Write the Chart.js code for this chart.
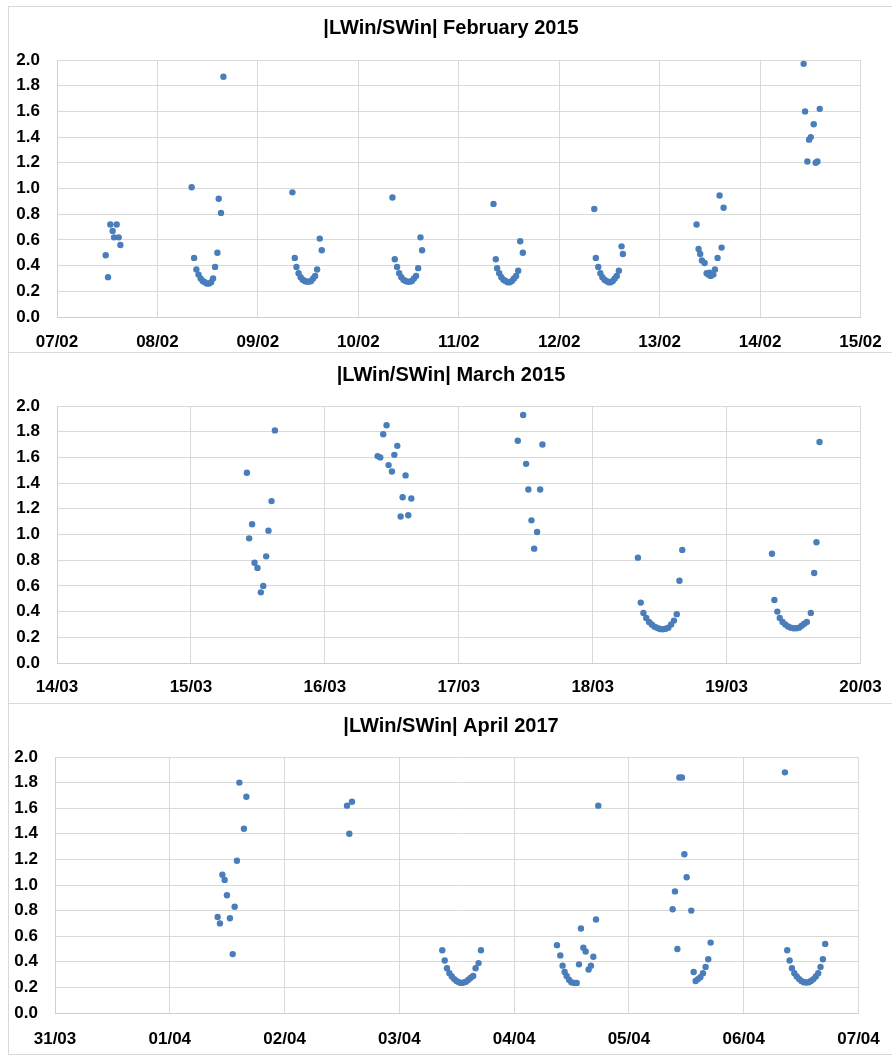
<!DOCTYPE html>
<html>
<head>
<meta charset="utf-8">
<script src="https://cdn.jsdelivr.net/npm/chart.js@4.4.1/dist/chart.umd.min.js"></script>
<style>
  body { margin: 0; background: #fff; width: 892px; height: 1055px; overflow: hidden; position: relative; }
  .panel { position: absolute; left: 8px; width: 900px; border: 1px solid #d9d9d9; box-sizing: border-box; background: #fff; }
  .panel canvas { position: absolute; left: 0; top: 0; }
</style>
</head>
<body>
<div class="panel" style="top:6px;height:347px"><canvas id="febChart" width="884" height="345"></canvas></div>
<div class="panel" style="top:352px;height:352px"><canvas id="marChart" width="884" height="350"></canvas></div>
<div class="panel" style="top:703px;height:352px"><canvas id="aprChart" width="884" height="350"></canvas></div>
<script>
// |LWin/SWin| ratio, x = day of month (decimal)
const febTicks = ['07/02', '08/02', '09/02', '10/02', '11/02', '12/02', '13/02', '14/02', '15/02']
const febX = [
    7.485, 7.508, 7.531, 7.554, 7.568, 7.594, 7.614, 7.631,
    8.341, 8.365, 8.388, 8.409, 8.430, 8.451, 8.471, 8.492, 8.513, 8.534, 8.554, 8.574, 8.597, 8.610, 8.633, 8.657,
    9.344, 9.367, 9.384, 9.405, 9.426, 9.446, 9.467, 9.488, 9.508, 9.529, 9.550, 9.570, 9.590, 9.616, 9.636,
    10.340, 10.363, 10.386, 10.407, 10.428, 10.449, 10.470, 10.491, 10.512, 10.533, 10.554, 10.575, 10.596, 10.619, 10.635,
    11.346, 11.369, 11.382, 11.403, 11.424, 11.445, 11.466, 11.487, 11.508, 11.529, 11.550, 11.571, 11.592, 11.612, 11.638,
    12.349, 12.365, 12.389, 12.410, 12.430, 12.451, 12.471, 12.492, 12.512, 12.533, 12.553, 12.573, 12.594, 12.621, 12.634,
    13.368, 13.388, 13.404, 13.421, 13.448, 13.468, 13.484, 13.497, 13.508, 13.535, 13.551, 13.577, 13.597, 13.617, 13.637,
    14.434, 14.448, 14.471, 14.488, 14.505, 14.534, 14.554, 14.571, 14.594
]
const febY = [
    0.48, 0.31, 0.72, 0.67, 0.62, 0.72, 0.62, 0.56,
    1.01, 0.46, 0.37, 0.33, 0.30, 0.28, 0.27, 0.26, 0.26, 0.27, 0.30, 0.39, 0.50, 0.92, 0.81, 1.87,
    0.97, 0.46, 0.39, 0.34, 0.31, 0.29, 0.28, 0.275, 0.275, 0.28, 0.30, 0.32, 0.37, 0.61, 0.52,
    0.93, 0.45, 0.39, 0.34, 0.31, 0.29, 0.28, 0.275, 0.275, 0.28, 0.30, 0.32, 0.38, 0.62, 0.52,
    0.88, 0.45, 0.38, 0.34, 0.31, 0.29, 0.28, 0.27, 0.27, 0.28, 0.30, 0.32, 0.36, 0.59, 0.50,
    0.84, 0.46, 0.39, 0.34, 0.31, 0.29, 0.28, 0.27, 0.27, 0.28, 0.30, 0.32, 0.36, 0.55, 0.49,
    0.72, 0.53, 0.49, 0.44, 0.42, 0.34, 0.33, 0.345, 0.32, 0.33, 0.37, 0.46, 0.945, 0.54, 0.85,
    1.97, 1.60, 1.21, 1.38, 1.40, 1.50, 1.20, 1.21, 1.62
]

const marTicks = ['14/03', '15/03', '16/03', '17/03', '18/03', '19/03', '20/03']
const marX = [
    15.418, 15.435, 15.457, 15.475, 15.497, 15.522, 15.540, 15.562, 15.579, 15.602, 15.627,
    16.394, 16.414, 16.436, 16.461, 16.476, 16.501, 16.519, 16.541, 16.566, 16.581, 16.603, 16.623, 16.646,
    17.441, 17.481, 17.503, 17.520, 17.543, 17.563, 17.585, 17.608, 17.625,
    18.338, 18.359, 18.379, 18.400, 18.421, 18.441, 18.462, 18.483, 18.503, 18.524, 18.545, 18.565, 18.586, 18.607, 18.628, 18.648, 18.669,
    19.339, 19.357, 19.379, 19.397, 19.418, 19.438, 19.459, 19.479, 19.500, 19.520, 19.541, 19.561, 19.580, 19.599, 19.629, 19.654, 19.671, 19.694
]
const marY = [
    1.48, 0.97, 1.08, 0.78, 0.74, 0.55, 0.60, 0.83, 1.03, 1.26, 1.81,
    1.61, 1.60, 1.78, 1.85, 1.54, 1.49, 1.62, 1.69, 1.14, 1.29, 1.46, 1.15, 1.28,
    1.73, 1.93, 1.55, 1.35, 1.11, 0.89, 1.02, 1.35, 1.70,
    0.82, 0.47, 0.39, 0.35, 0.32, 0.30, 0.283, 0.272, 0.265, 0.263, 0.266, 0.275, 0.30, 0.33, 0.38, 0.64, 0.88,
    0.85, 0.49, 0.40, 0.35, 0.32, 0.30, 0.285, 0.275, 0.27, 0.27, 0.275, 0.29, 0.305, 0.32, 0.39, 0.70, 0.94, 1.72
]

// x = days since 31/03
const aprTicks = ['31/03', '01/04', '02/04', '03/04', '04/04', '05/04', '06/04', '07/04']
const aprX = [
    1.417, 1.437, 1.458, 1.478, 1.498, 1.524, 1.548, 1.565, 1.585, 1.606, 1.646, 1.667,
    2.544, 2.564, 2.587,
    3.374, 3.395, 3.415, 3.436, 3.457, 3.478, 3.498, 3.519, 3.540, 3.560, 3.581, 3.602, 3.622, 3.643, 3.664, 3.690, 3.711,
    4.373, 4.402, 4.422, 4.440, 4.457, 4.478, 4.498, 4.524, 4.545, 4.565, 4.582, 4.603, 4.623, 4.649, 4.669, 4.690, 4.713, 4.733,
    5.381, 5.401, 5.422, 5.439, 5.462, 5.483, 5.503, 5.543, 5.564, 5.581, 5.601, 5.622, 5.645, 5.668, 5.691, 5.712,
    6.359, 6.379, 6.400, 6.420, 6.441, 6.462, 6.483, 6.503, 6.524, 6.545, 6.566, 6.586, 6.607, 6.628, 6.649, 6.669, 6.690, 6.710
]
const aprY = [
    0.75, 0.70, 1.08, 1.04, 0.92, 0.74, 0.46, 0.83, 1.19, 1.80, 1.44, 1.69,
    1.62, 1.40, 1.65,
    0.49, 0.41, 0.35, 0.31, 0.285, 0.265, 0.25, 0.24, 0.235, 0.238, 0.245, 0.26, 0.275, 0.29, 0.35, 0.39, 0.49,
    0.53, 0.45, 0.37, 0.32, 0.29, 0.26, 0.24, 0.235, 0.235, 0.38, 0.66, 0.51, 0.48, 0.34, 0.37, 0.44, 0.73, 1.62,
    0.81, 0.95, 0.50, 1.84, 1.84, 1.24, 1.06, 0.80, 0.32, 0.25, 0.265, 0.28, 0.31, 0.36, 0.42, 0.55,
    1.88, 0.49, 0.41, 0.35, 0.31, 0.285, 0.265, 0.25, 0.24, 0.238, 0.24, 0.25, 0.265, 0.285, 0.31, 0.36, 0.42, 0.54
]

const blue = '#4a7ebb'
const gridGrey = '#d9d9d9'
const fontFamily = "'Liberation Sans', Arial, sans-serif"

const makeChart = (id, xs, ys, ticks, xMin, title, geo) => {
    const points = xs.map((x, i) => ({ x: x, y: ys[i] }))
    return new Chart(document.getElementById(id), {
        type: 'scatter',
        data: {
            datasets: [{
                data: points,
                backgroundColor: blue,
                borderWidth: 0,
                pointRadius: 3.2,
                pointHoverRadius: 3.2,
            }]
        },
        options: {
            responsive: false,
            animation: false,
            events: [],
            layout: { padding: 0 },
            plugins: {
                legend: { display: false },
                tooltip: { enabled: false },
                title: {
                    display: true,
                    text: title,
                    color: '#000',
                    font: { family: fontFamily, size: 20, weight: 'bold', lineHeight: 1.2 },
                    padding: { top: geo.titleTop, bottom: geo.titleBottom },
                },
            },
            scales: {
                x: {
                    type: 'linear',
                    min: xMin,
                    max: xMin + ticks.length - 1,
                    afterFit: (scale) => {
                        scale.height = geo.xAxisH
                        // the spacer axis already leaves room for the end labels
                        scale.paddingLeft = 0
                        scale.paddingRight = 0
                    },
                    ticks: {
                        stepSize: 1,
                        padding: geo.xPad,
                        color: '#000',
                        maxRotation: 0,
                        font: { family: fontFamily, size: 17, weight: 'bold' },
                        callback: (v) => ticks[Math.round(v - xMin)],
                    },
                    grid: { color: gridGrey, drawTicks: false },
                    border: { color: '#d0d0d0' },
                },
                y: {
                    min: 0,
                    max: 2,
                    afterFit: (scale) => { scale.width = geo.left },
                    ticks: {
                        stepSize: 0.2,
                        padding: 17,
                        color: '#000',
                        font: { family: fontFamily, size: 17, weight: 'bold' },
                        callback: (v) => Number(v).toFixed(1),
                    },
                    grid: { color: gridGrey, drawTicks: false },
                    border: { color: '#d0d0d0' },
                },
                // empty right-hand spacer so the title centres on the whole panel
                spacer: {
                    position: 'right',
                    afterFit: (scale) => { scale.width = geo.right },
                    ticks: { display: false },
                    grid: { display: false, drawTicks: false },
                    border: { display: false },
                },
            },
        },
    })
}

makeChart('febChart', febX, febY, febTicks, 7, '|LWin/SWin| February 2015',
    { left: 48, right: 32.5, titleTop: 9, titleBottom: 20, xAxisH: 35, xPad: 15.5 })
makeChart('marChart', marX, marY, marTicks, 14, '|LWin/SWin| March 2015',
    { left: 48, right: 32.5, titleTop: 10, titleBottom: 19, xAxisH: 40, xPad: 14.5 })
makeChart('aprChart', aprX, aprY, aprTicks, 0, '|LWin/SWin| April 2017',
    { left: 46, right: 34.5, titleTop: 10, titleBottom: 19, xAxisH: 41, xPad: 16 })
</script>
</body>
</html>
